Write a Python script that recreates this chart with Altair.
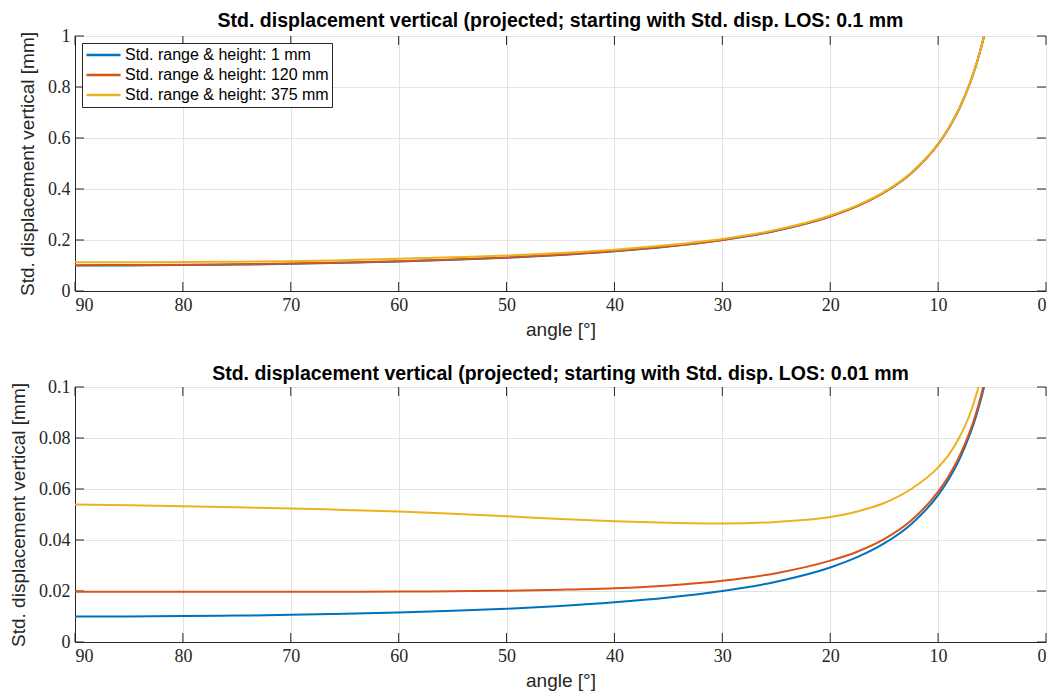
import altair as alt
import pandas as pd

angles = [90, 85, 80, 75, 70, 65, 60, 55, 50, 45, 40, 35, 30, 25, 20, 17.5, 15, 12.5, 10, 9, 8, 7, 6.5, 6, 5.74]

series_names = ["Std. range & height: 1 mm", "Std. range & height: 120 mm", "Std. range & height: 375 mm"]
colors = ["#0072BD", "#D95319", "#EDB120"]

# top panel (LOS 0.1 mm)
top_1 = [0.1000, 0.1004, 0.1015, 0.1035, 0.1064, 0.1103, 0.1155, 0.1221, 0.1305, 0.1414, 0.1556, 0.1743, 0.2000,
         0.2366, 0.2924, 0.3326, 0.3864, 0.4620, 0.5759, 0.6392, 0.7185, 0.8206, 0.8830, 0.9567, 1.0000]
top_120 = [0.1014, 0.1018, 0.1029, 0.1049, 0.1077, 0.1116, 0.1167, 0.1232, 0.1316, 0.1424, 0.1565, 0.1751, 0.2004,
           0.2370, 0.2927, 0.3329, 0.3866, 0.4622, 0.5760, 0.6393, 0.7186, 0.8207, 0.8831, 0.9568, 1.0001]
top_375 = [0.113, 0.113, 0.114, 0.115, 0.117, 0.121, 0.126, 0.132, 0.139, 0.149, 0.162, 0.180, 0.204,
           0.240, 0.296, 0.336, 0.389, 0.464, 0.577, 0.640, 0.719, 0.821, 0.883, 0.957, 1.000]

# bottom panel (LOS 0.01 mm)
bot_1 = [0.01000, 0.01004, 0.01015, 0.01035, 0.01064, 0.01103, 0.01155, 0.01221, 0.01305, 0.01414, 0.01556, 0.01743,
         0.02000, 0.02366, 0.02924, 0.03326, 0.03864, 0.04620, 0.05759, 0.06392, 0.07185, 0.08206, 0.08830, 0.09567, 0.1000]
bot_120 = [0.0197, 0.0197, 0.0197, 0.0197, 0.0197, 0.0197, 0.0198, 0.0199, 0.0201, 0.0205, 0.0211, 0.0222, 0.0240,
           0.0270, 0.0319, 0.0354, 0.0403, 0.0476, 0.0590, 0.0652, 0.0731, 0.0832, 0.0895, 0.0970, 0.1015]
bot_375 = [0.0539, 0.0536, 0.0532, 0.0528, 0.0524, 0.0518, 0.0512, 0.0503, 0.0493, 0.0482, 0.0474, 0.0468, 0.0465,
           0.0471, 0.0490, 0.0512, 0.0545, 0.0600, 0.0685, 0.0735, 0.0805, 0.0900, 0.0965, 0.1040, 0.1090]

x_ticks = [0, 10, 20, 30, 40, 50, 60, 70, 80, 90]
top_yticks = [0, 0.2, 0.4, 0.6, 0.8, 1]
bot_yticks = [0, 0.02, 0.04, 0.06, 0.08, 0.1]


def frame(vals_list):
    rows = []
    for name, vals in zip(series_names, vals_list):
        for a, v in zip(angles, vals):
            rows.append({"angle": a, "value": v, "series": name})
    return pd.DataFrame(rows)


W, H = 971, 255
TICK = 9
SERIF = "Liberation Serif"
SANS = "Liberation Sans"
DARK = "#262626"


def panel(df, ymax, yticks, title, title_offset):
    xscale = alt.Scale(domain=[0, 90], reverse=True, nice=False)
    yscale = alt.Scale(domain=[0, ymax], nice=False)
    lines = alt.Chart(df).mark_line(strokeWidth=2, clip=True, interpolate="monotone").encode(
        x=alt.X("angle:Q", scale=xscale,
                axis=alt.Axis(values=x_ticks, title="angle [°]", titleFont=SANS, titleFontSize=19,
                              titleFontWeight="normal", titleColor=DARK, labelFont=SERIF,
                              labelFontSize=18, labelColor=DARK, gridColor="#e3e3e3",
                              domainColor=DARK, tickSize=0, labelPadding=5, titlePadding=6)),
        y=alt.Y("value:Q", scale=yscale,
                axis=alt.Axis(values=yticks, format="~g", title="Std. displacement vertical [mm]",
                              titleFont=SANS, titleFontSize=19, titleFontWeight="normal",
                              titleColor=DARK, labelFont=SERIF, labelFontSize=18, labelColor=DARK,
                              gridColor="#e3e3e3", domainColor=DARK, tickSize=0, labelPadding=5,
                              titlePadding=10)),
        color=alt.Color("series:N",
                        scale=alt.Scale(domain=series_names, range=colors),
                        legend=alt.Legend(title=None, orient="top-left", offset=7,
                                          symbolType="stroke", symbolSize=1156, symbolStrokeWidth=2.5,
                                          clipHeight=18, labelOffset=3,
                                          labelFont=SANS, labelFontSize=16, labelColor="#000000",
                                          strokeColor=DARK, fillColor="white", padding=3,
                                          rowPadding=2, cornerRadius=0, labelLimit=400)),
    )
    xt = pd.DataFrame({"t": x_ticks})
    yt = pd.DataFrame({"t": yticks})
    xb = alt.Chart(xt).mark_rule(color=DARK, strokeWidth=1).encode(
        x=alt.X("t:Q", scale=xscale), y=alt.value(H), y2=alt.value(H - TICK))
    xtop = alt.Chart(xt).mark_rule(color=DARK, strokeWidth=1).encode(
        x=alt.X("t:Q", scale=xscale), y=alt.value(0), y2=alt.value(TICK))
    yl = alt.Chart(yt).mark_rule(color=DARK, strokeWidth=1).encode(
        y=alt.Y("t:Q", scale=yscale), x=alt.value(0), x2=alt.value(TICK))
    yr = alt.Chart(yt).mark_rule(color=DARK, strokeWidth=1).encode(
        y=alt.Y("t:Q", scale=yscale), x=alt.value(W - TICK), x2=alt.value(W))
    return alt.layer(xb, xtop, yl, yr, lines).properties(
        width=W, height=H,
        title=alt.TitleParams(title, font=SANS, fontSize=19.5, fontWeight="bold", color="#000000",
                              anchor="middle", offset=title_offset),
    )


top = panel(frame([top_1, top_120, top_375]), 1.0, top_yticks,
            "Std. displacement vertical (projected; starting with Std. disp. LOS: 0.1 mm", -4)
bottom = panel(frame([bot_1, bot_120, bot_375]), 0.1, bot_yticks,
               "Std. displacement vertical (projected; starting with Std. disp. LOS: 0.01 mm", -6)

chart = alt.vconcat(top, bottom, spacing=23).configure_view(
    stroke=DARK, strokeWidth=1
).configure(background="white", padding={"left": 8, "top": 10, "right": 8, "bottom": 2})

chart.save("out.html", embed_options={"renderer": "svg", "actions": False})
